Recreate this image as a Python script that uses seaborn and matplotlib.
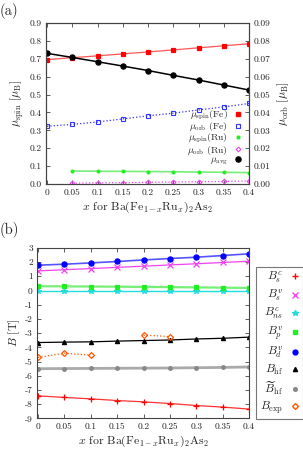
import matplotlib
matplotlib.use("Agg")
import matplotlib.pyplot as plt
import numpy as np
import pandas as pd
import seaborn as sns
from matplotlib.lines import Line2D

# ---- data ----
x_all = [0.0, 0.05, 0.1, 0.15, 0.2, 0.25, 0.3, 0.35, 0.4]
x_ru = [0.05, 0.1, 0.15, 0.2, 0.25, 0.3, 0.35, 0.4]

mu_spin_fe = [0.695, 0.706, 0.716, 0.727, 0.738, 0.749, 0.761, 0.772, 0.784]
mu_orb_fe = [0.0323, 0.0333, 0.0347, 0.0364, 0.0381, 0.0396, 0.0414, 0.0431, 0.0450]
mu_spin_ru = [0.073, 0.072, 0.071, 0.070, 0.069, 0.067, 0.066, 0.064]
mu_orb_ru = [0.0005, 0.0007, 0.0008, 0.0010, 0.0012, 0.0013, 0.0015, 0.0017]
mu_avg = [0.730, 0.707, 0.683, 0.659, 0.634, 0.607, 0.581, 0.553, 0.525]

b_s_c = [-7.41, -7.52, -7.62, -7.74, -7.83, -7.95, -8.09, -8.20, -8.34]
b_s_v = [1.38, 1.46, 1.54, 1.63, 1.71, 1.80, 1.88, 1.97, 2.06]
b_ns_c = [-0.03, -0.03, -0.03, -0.03, -0.03, -0.03, -0.03, -0.03, -0.03]
b_p_v = [0.30, 0.29, 0.28, 0.27, 0.25, 0.24, 0.22, 0.20, 0.18]
b_d_v = [1.78, 1.85, 1.94, 2.04, 2.15, 2.25, 2.34, 2.46, 2.58]
b_hf = [-3.66, -3.63, -3.61, -3.56, -3.52, -3.48, -3.41, -3.36, -3.28]
b_hf_tilde = [-5.50, -5.49, -5.48, -5.47, -5.46, -5.45, -5.43, -5.41, -5.38]
x_exp = [0.0, 0.05, 0.1, 0.2, 0.25]
seg_exp = [0, 0, 0, 1, 1]
b_exp = [-4.71, -4.41, -4.55, -3.14, -3.24]

x_ticks = [0, 0.05, 0.1, 0.15, 0.2, 0.25, 0.3, 0.35, 0.4]
x_ticklabels = ["0", "0.05", "0.1", "0.15", "0.2", "0.25", "0.3", "0.35", "0.4"]

sns.set_theme(style="ticks")
plt.rcParams.update({
    "font.family": "serif",
    "font.serif": ["cmr10"],
    "mathtext.fontset": "cm",
    "axes.unicode_minus": False,
    "axes.formatter.use_mathtext": True,
    "axes.edgecolor": "#444444",
    "axes.linewidth": 0.8,
    "xtick.direction": "in",
    "ytick.direction": "in",
    "xtick.major.size": 3,
    "ytick.major.size": 3,
    "xtick.major.width": 0.6,
    "ytick.major.width": 0.6,
    "xtick.labelsize": 6.8,
    "ytick.labelsize": 6.8,
    "xtick.major.pad": 3,
    "ytick.major.pad": 3,
    "xtick.color": "#444444",
    "ytick.color": "#444444",
    "xtick.labelcolor": "#222222",
    "ytick.labelcolor": "#222222",
})

XLABEL = r"$x$ for Ba(Fe$_{1-x}$Ru$_x$)$_2$As$_2$"


def curve(ax, x, y, color, marker, ms, ls="-", lw=0.9, mfc=None, mew=0.9, units=None, lc=None):
    df = pd.DataFrame({"x": x, "y": y})
    kw = dict(color=color if lc is None else lc, marker=marker, markersize=ms, linestyle=ls,
              linewidth=lw, markeredgewidth=mew, markeredgecolor=color,
              markerfacecolor=color if mfc is None else mfc, ax=ax, legend=False)
    if units is not None:
        df["u"] = units
        sns.lineplot(data=df, x="x", y="y", units="u", estimator=None, **kw)
    else:
        sns.lineplot(data=df, x="x", y="y", **kw)


fig = plt.figure(figsize=(3.03, 4.49), dpi=100)

# ---- panel (a) ----
ax1 = fig.add_axes([0.152, 0.590, 0.670, 0.359])
ax2 = ax1.twinx()

curve(ax1, x_all, mu_spin_fe, "#ff0000", "s", 2.6, lc="#ff5555")
curve(ax1, x_all, mu_avg, "#000000", "o", 3.7, lw=1.1)
curve(ax1, x_ru, mu_spin_ru, "#22ee22", "o", 2.0, lw=1.2, lc="#77ee77")
curve(ax2, x_all, mu_orb_fe, "#3333ff", "s", 3.2, ls=":", mfc="none", mew=0.8)
curve(ax2, x_ru, mu_orb_ru, "#ee44ee", "D", 2.4, ls=":", mfc="none", mew=0.8)

ax1.set_xlim(-0.002, 0.4)
ax1.set_ylim(0, 0.9)
ax2.set_ylim(0, 0.09)
ax1.set_xticks(x_ticks)
ax1.set_xticklabels(x_ticklabels)
ax1.set_yticks(np.arange(0, 0.91, 0.1))
ax1.set_yticklabels([f"{v:.1f}" for v in np.arange(0, 0.91, 0.1)])
ax2.set_yticks(np.arange(0, 0.091, 0.01))
ax2.set_yticklabels([f"{v:.2f}" for v in np.arange(0, 0.091, 0.01)])
ax1.tick_params(top=True, right=False)
ax1.set_xlabel(XLABEL, fontsize=8.5, labelpad=2)
ax1.set_ylabel(r"$\mu_{\rm spin}$ $[\mu_{\rm B}]$", fontsize=8.5, labelpad=3)
ax2.set_ylabel(r"$\mu_{\rm orb}$ $[\mu_{\rm B}]$", fontsize=8.5, labelpad=4)

handles_a = [
    Line2D([], [], ls="none", marker="s", ms=2.6, color="#ff0000"),
    Line2D([], [], ls="none", marker="s", ms=3.2, color="#3333ff", mfc="none", mew=0.8),
    Line2D([], [], ls="none", marker="o", ms=2.0, color="#22ee22"),
    Line2D([], [], ls="none", marker="D", ms=2.4, color="#ee44ee", mfc="none", mew=0.8),
    Line2D([], [], ls="none", marker="o", ms=3.7, color="#000000"),
]
labels_a = [r"$\mu_{\rm spin}$(Fe)", r"$\mu_{\rm orb}$ (Fe)", r"$\mu_{\rm spin}$(Ru)",
            r"$\mu_{\rm orb}$ (Ru)", r"$\mu_{\rm avg}$"]
leg = ax2.legend(handles_a, labels_a, loc="upper right", bbox_to_anchor=(0.962, 0.468),
                 frameon=False, markerfirst=False, fontsize=7.0, handlelength=0.6,
                 handletextpad=0.8, labelspacing=-0.15, borderpad=0.0, borderaxespad=0.0)

# right-align the legend labels against the markers (gnuplot style key);
# measure how a unit shift of the text moves it, then apply the needed shift
texts = leg.get_texts()
fig.canvas.draw()
renderer = fig.canvas.get_renderer()
right0 = [t.get_window_extent(renderer).x1 for t in texts]
for t in texts:
    t.set_x(10)
fig.canvas.draw()
right1 = [t.get_window_extent(renderer).x1 for t in texts]
scale = (right1[0] - right0[0]) / 10 or 1.0
target = max(right0)
for t, r in zip(texts, right0):
    t.set_x((target - r) / scale)

fig.text(0.0, 0.975, "(a)", fontsize=10.5, va="center", ha="left")

# ---- panel (b) ----
ax3 = fig.add_axes([0.122, 0.068, 0.700, 0.380])

curve(ax3, x_all, b_hf_tilde, "#888888", "o", 2.6, lw=2.0, lc="#aaaaaa")
curve(ax3, x_all, b_s_c, "#ff0000", "+", 5.0, lc="#ff3333")
curve(ax3, x_all, b_s_v, "#ee44ee", "x", 4.2)
curve(ax3, x_all, b_ns_c, "#22dddd", "*", 4.0, lw=1.0)
curve(ax3, x_all, b_p_v, "#22ee22", "s", 3.3, lw=1.6, lc="#77ee77")
curve(ax3, x_all, b_d_v, "#0000ff", "o", 3.7, lw=1.2, lc="#5555ff")
curve(ax3, x_all, b_hf, "#000000", "^", 3.0)
curve(ax3, x_exp, b_exp, "#ff5500", "D", 3.0, ls=":", mfc="none", units=seg_exp)

ax3.set_xlim(-0.002, 0.4)
ax3.set_ylim(-9, 3)
ax3.set_xticks(x_ticks)
ax3.set_xticklabels(x_ticklabels)
ax3.set_yticks(range(-9, 4))
ax3.set_yticklabels([str(v) for v in range(-9, 4)])
ax3.tick_params(top=True, right=True)
ax3.set_xlabel(XLABEL, fontsize=8.5, labelpad=2)
ax3.set_ylabel(r"$B$ [T]", fontsize=8.5, labelpad=2)

handles_b = [
    Line2D([], [], ls="none", marker="+", ms=4.5, color="#ff0000"),
    Line2D([], [], ls="none", marker="x", ms=4.0, color="#ee44ee"),
    Line2D([], [], ls="none", marker="*", ms=4.0, color="#22dddd"),
    Line2D([], [], ls="none", marker="s", ms=3.3, color="#22ee22"),
    Line2D([], [], ls="none", marker="o", ms=3.5, color="#0000ff"),
    Line2D([], [], ls="none", marker="^", ms=3.0, color="#000000"),
    Line2D([], [], ls="none", marker="o", ms=2.6, color="#888888"),
    Line2D([], [], ls="none", marker="D", ms=3.0, color="#ff5500", mfc="none"),
]
labels_b = [r"$B_s^c$", r"$B_s^v$", r"$B_{ns}^c$", r"$B_p^v$", r"$B_d^v$",
            r"$B_{\rm hf}$", r"$\widetilde{B}_{\rm hf}$", r"$B_{\rm exp}$"]
leg_b = ax3.legend(handles_b, labels_b, loc="lower left", bbox_to_anchor=(1.035, -0.005),
                   frameon=True, markerfirst=False, fontsize=8.5, handlelength=0.8,
                   handletextpad=0.6, labelspacing=0.18, borderpad=0.3,
                   borderaxespad=0.0, fancybox=False)
leg_b.get_frame().set_edgecolor("#555555")
leg_b.get_frame().set_linewidth(0.8)

fig.text(0.0, 0.488, "(b)", fontsize=10.5, va="center", ha="left")

fig.savefig("out.png", dpi=100)
